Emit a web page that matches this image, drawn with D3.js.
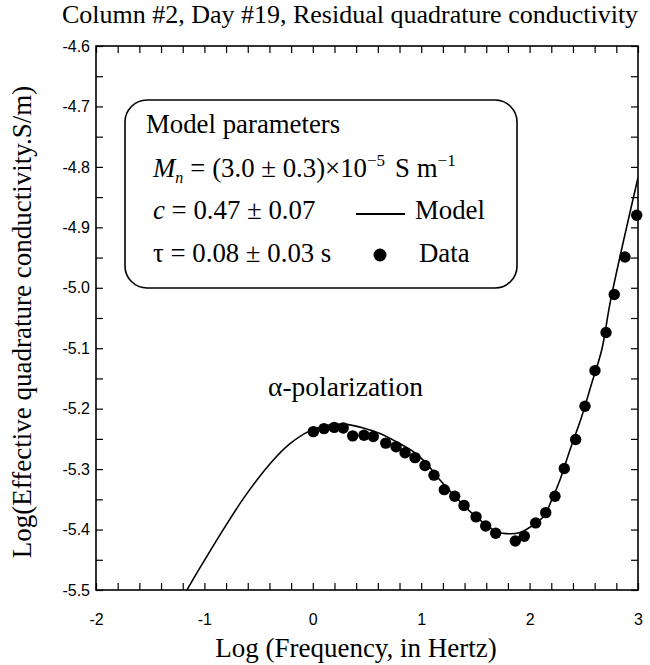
<!DOCTYPE html>
<html>
<head>
<meta charset="utf-8">
<script src="https://cdn.jsdelivr.net/npm/d3@7"></script>
<style>
  html, body { margin: 0; padding: 0; background: #fff; }
  svg { display: block; }
</style>
</head>
<body>
<svg id="chart" width="650" height="665"></svg>
<script>
// ---- data ----
const dataLogF = [0.005, 0.103, 0.198, 0.281, 0.368, 0.472, 0.558, 0.673, 0.768, 0.851,
  0.943, 1.035, 1.118, 1.213, 1.309, 1.395, 1.506, 1.595, 1.687, 1.868,
  1.951, 2.056, 2.149, 2.234, 2.320, 2.425, 2.511, 2.603, 2.705, 2.781,
  2.880, 2.988];
const dataLogSigma = [-5.238, -5.233, -5.231, -5.232, -5.245, -5.244, -5.246, -5.257, -5.263, -5.273,
  -5.281, -5.294, -5.310, -5.334, -5.345, -5.360, -5.379, -5.394, -5.406, -5.419,
  -5.411, -5.389, -5.372, -5.345, -5.299, -5.251, -5.196, -5.137, -5.074, -5.011,
  -4.949, -4.880];

const modelLogF = [-1.161, -1.050, -0.826, -0.610, -0.364, -0.210, -0.042, 0.097, 0.220, 0.313,
  0.466, 0.620, 0.774, 0.927, 1.035, 1.173, 1.312, 1.450, 1.589, 1.699,
  1.819, 1.911, 2.004, 2.126, 2.204, 2.280, 2.373, 2.481, 2.573, 2.665,
  2.748, 3.000];
const modelLogSigma = [-5.500, -5.466, -5.400, -5.341, -5.285, -5.258, -5.238, -5.229, -5.226, -5.226,
  -5.232, -5.241, -5.255, -5.271, -5.288, -5.318, -5.345, -5.370, -5.391, -5.404,
  -5.407, -5.405, -5.396, -5.379, -5.351, -5.318, -5.268, -5.213, -5.158, -5.103,
  -5.020, -4.818];

const xTickValues = [-2, -1, 0, 1, 2, 3];
const xTickLabels = ["-2", "-1", "0", "1", "2", "3"];
const yTickValues = [-4.6, -4.7, -4.8, -4.9, -5.0, -5.1, -5.2, -5.3, -5.4, -5.5];
const yTickLabels = ["-4.6", "-4.7", "-4.8", "-4.9", "-5.0", "-5.1", "-5.2", "-5.3", "-5.4", "-5.5"];

const titleText = "Column #2, Day #19, Residual quadrature conductivity";
const xTitle = "Log (Frequency, in Hertz)";
const yTitle = "Log(Effective quadrature conductivity.S/m)";

// ---- layout ----
const svg = d3.select("#chart");
const X0 = 96, X1 = 638, Y0 = 46, Y1 = 590;
const serif = "'Liberation Serif', 'Times New Roman', serif";
const sans = "'Liberation Sans', Arial, sans-serif";

const x = d3.scaleLinear().domain([-2, 3]).range([X0, X1]);
const y = d3.scaleLinear().domain([-5.5, -4.6]).range([Y1, Y0]);

const xMinor = d3.range(-2, 3.0001, 0.2).map(v => +v.toFixed(2));
const yMinor = d3.range(-5.5, -4.5999, 0.05).map(v => +v.toFixed(2));
const near = (a, b) => Math.abs(a - b) < 1e-6;
const xLab = d => { const i = xTickValues.findIndex(v => near(v, d)); return i >= 0 ? xTickLabels[i] : ""; };
const yLab = d => { const i = yTickValues.findIndex(v => near(v, d)); return i >= 0 ? yTickLabels[i] : ""; };

function styleAxis(g) {
  g.select(".domain").remove();
  g.selectAll(".tick line").attr("stroke", "#000").attr("stroke-width", 1.2);
  g.selectAll("text").attr("fill", "#000").style("font-family", sans).style("font-size", "16px");
}

svg.append("g").attr("transform", `translate(0,${Y1})`)
  .call(d3.axisBottom(x).tickValues(xMinor).tickSize(-7).tickPadding(24).tickFormat(xLab))
  .call(styleAxis);
svg.append("g").attr("transform", `translate(0,${Y0})`)
  .call(d3.axisTop(x).tickValues(xMinor).tickSize(-7).tickFormat(""))
  .call(styleAxis);
svg.append("g").attr("transform", `translate(${X0},0)`)
  .call(d3.axisLeft(y).tickValues(yMinor).tickSize(-7).tickPadding(6).tickFormat(yLab))
  .call(styleAxis);
svg.append("g").attr("transform", `translate(${X1},0)`)
  .call(d3.axisRight(y).tickValues(yMinor).tickSize(-7).tickFormat(""))
  .call(styleAxis);

svg.append("rect").attr("x", X0).attr("y", Y0).attr("width", X1 - X0).attr("height", Y1 - Y0)
  .attr("fill", "none").attr("stroke", "#000").attr("stroke-width", 1.6);

svg.append("clipPath").attr("id", "clip").append("rect")
  .attr("x", X0).attr("y", Y0).attr("width", X1 - X0).attr("height", Y1 - Y0);

const modelPts = modelLogF.map((f, i) => [f, modelLogSigma[i]]);
svg.append("path").datum(modelPts)
  .attr("clip-path", "url(#clip)")
  .attr("fill", "none").attr("stroke", "#000").attr("stroke-width", 1.6)
  .attr("d", d3.line().x(d => x(d[0])).y(d => y(d[1])).curve(d3.curveCatmullRom.alpha(0.5)));

const dataPts = dataLogF.map((f, i) => [f, dataLogSigma[i]]);
svg.append("g").selectAll("circle").data(dataPts).join("circle")
  .attr("cx", d => x(d[0])).attr("cy", d => y(d[1])).attr("r", 5.7).attr("fill", "#000");

// titles
svg.append("text").attr("x", 350).attr("y", 23).attr("text-anchor", "middle")
  .style("font-family", serif).style("font-size", "26px").text(titleText);
svg.append("text").attr("x", 356).attr("y", 657).attr("text-anchor", "middle")
  .style("font-family", serif).style("font-size", "27px").text(xTitle);
svg.append("text").attr("transform", "translate(31,322) rotate(-90)").attr("text-anchor", "middle")
  .style("font-family", serif).style("font-size", "27px").text(yTitle);

svg.append("text").attr("x", 268).attr("y", 396)
  .style("font-family", serif).style("font-size", "27.5px").text("α-polarization");

// legend box
svg.append("rect").attr("x", 125).attr("y", 100).attr("width", 392).attr("height", 188)
  .attr("rx", 22).attr("ry", 22).attr("fill", "#fff").attr("stroke", "#000").attr("stroke-width", 1.6);

const lg = svg.append("g").style("font-family", serif).style("font-size", "26.8px");
lg.append("text").attr("x", 146).attr("y", 133).text("Model parameters");

const t1 = lg.append("text").attr("x", 153).attr("y", 177);
t1.append("tspan").style("font-style", "italic").text("M");
t1.append("tspan").style("font-style", "italic").style("font-size", "16px").attr("dy", 6).text("n");
t1.append("tspan").attr("dy", -6).attr("dx", 7).text("= (3.0 ± 0.3)×10");
t1.append("tspan").style("font-size", "17px").attr("dy", -11).text("−5");
t1.append("tspan").attr("dy", 11).attr("dx", 10).text("S m");
t1.append("tspan").style("font-size", "17px").attr("dy", -11).text("−1");

const t2 = lg.append("text").attr("x", 153).attr("y", 219);
t2.append("tspan").style("font-style", "italic").text("c");
t2.append("tspan").text(" = 0.47 ± 0.07");

const t3 = lg.append("text").attr("x", 153).attr("y", 262);
t3.append("tspan").text("τ  = 0.08 ± 0.03 s");

lg.append("line").attr("x1", 356).attr("x2", 405).attr("y1", 214).attr("y2", 214)
  .attr("stroke", "#000").attr("stroke-width", 2);
lg.append("text").attr("x", 415).attr("y", 219).text("Model");
lg.append("circle").attr("cx", 380).attr("cy", 255).attr("r", 6.5).attr("fill", "#000");
lg.append("text").attr("x", 419).attr("y", 262).text("Data");
</script>
</body>
</html>
